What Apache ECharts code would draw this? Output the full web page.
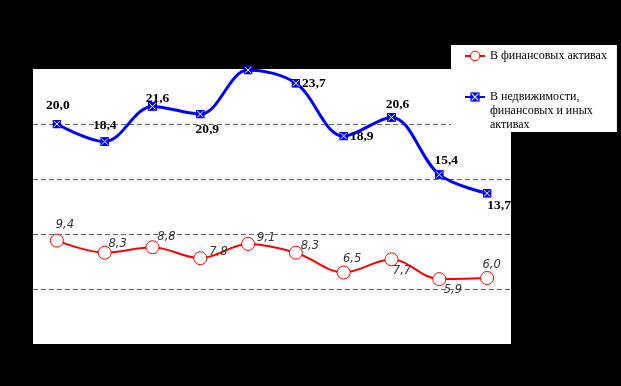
<!DOCTYPE html>
<html>
<head>
<meta charset="utf-8">
<script src="https://cdn.jsdelivr.net/npm/echarts@6/dist/echarts.min.js"></script>
<style>
html,body{margin:0;padding:0;background:#000;}
#chart{width:621px;height:386px;}
</style>
</head>
<body>
<div id="chart"></div>
<script>
// ---- data ----
const categories = ['1', '2', '3', '4', '5', '6', '7', '8', '9', '10'];
const finName = 'В финансовых активах';
const realName = 'В недвижимости, финансовых и иных активах';
const finValues = [9.4, 8.3, 8.8, 7.8, 9.1, 8.3, 6.5, 7.7, 5.9, 6.0];
const realValues = [20.0, 18.4, 21.6, 20.9, 24.9, 23.7, 18.9, 20.6, 15.4, 13.7];
const yTicks = [0, 5, 10, 15, 20, 25];

// ---- label placement (offset of label centre from point) ----
const finLabelOffsets = [[8,-16],[13,-8.5],[14,-10],[18,-6],[18,-5.5],[14,-7],[8.5,-13],[10.5,12],[13.5,11],[4.5,-13]];
const realLabelOffsets = [[1,-18],[0,-16],[5,-7.5],[7,15],[0,-18],[18,0],[18,0.5],[6,-13],[7,-14],[12,12.5]];

const fmt = v => v.toFixed(1).replace('.', ',');

const xMarkerSvg = "<svg xmlns='http://www.w3.org/2000/svg' width='20' height='20' viewBox='0 0 20 20'>" +
  "<rect x='0' y='0' width='20' height='20' fill='#0000ff'/>" +
  "<path d='M3 3L17 17M17 3L3 17' stroke='#ffffff' stroke-width='2.2'/></svg>";
const xMarker = 'image://data:image/svg+xml;charset=utf-8,' + encodeURIComponent(xMarkerSvg);

const chart = echarts.init(document.getElementById('chart'), null, {renderer: 'canvas'});

const option = {
  backgroundColor: '#000000',
  animation: false,
  grid: {
    left: 33, right: 110, top: 69, bottom: 42,
    show: true, backgroundColor: '#ffffff', borderWidth: 0
  },
  legend: {
    left: 451, top: 45,
    orient: 'vertical',
    backgroundColor: '#ffffff',
    padding: [4, 10, 0, 13],
    itemGap: -1,
    itemWidth: 20, itemHeight: 12,
    itemStyle: {borderWidth: 1},
    data: [finName, realName],
    formatter: name => name === realName ? '\n\nВ недвижимости,\nфинансовых и иных\nактивах' : name,
    textStyle: {fontFamily: 'Liberation Serif', fontSize: 12, color: '#000', lineHeight: 14}
  },
  xAxis: {
    type: 'category',
    data: categories,
    boundaryGap: true,
    axisLine: {show: false}, axisTick: {show: false}, axisLabel: {show: false},
    splitLine: {show: false}
  },
  yAxis: {
    type: 'value',
    min: yTicks[0], max: yTicks[yTicks.length - 1], interval: 5,
    axisLine: {show: false}, axisTick: {show: false}, axisLabel: {show: false},
    splitLine: {
      show: true, showMinLine: false, showMaxLine: false,
      lineStyle: {color: '#666666', width: 1, type: [5, 3]}
    }
  },
  series: [
    {
      name: finName,
      type: 'line',
      smooth: 0.35,
      clip: false,
      symbol: 'circle',
      symbolSize: 13,
      lineStyle: {color: '#ff0000', width: 2},
      itemStyle: {color: '#ffffff', borderColor: '#ff0000', borderWidth: 1},
      data: finValues.map((v, i) => ({
        value: v,
        label: {offset: finLabelOffsets[i]}
      })),
      label: {
        show: true, position: 'inside',
        formatter: p => fmt(p.value),
        fontFamily: 'DejaVu Sans', fontStyle: 'italic', fontSize: 11.5, color: '#333333'
      },
      z: 3
    },
    {
      name: realName,
      type: 'line',
      smooth: 0.35,
      clip: false,
      symbol: xMarker,
      symbolSize: 9,
      lineStyle: {color: '#0000ff', width: 3},
      itemStyle: {color: '#0000ff'},
      data: realValues.map((v, i) => ({
        value: v,
        label: {offset: realLabelOffsets[i]}
      })),
      label: {
        show: true, position: 'inside',
        formatter: p => fmt(p.value),
        fontFamily: 'Liberation Serif', fontWeight: 'bold', fontSize: 13.5, color: '#000000'
      },
      z: 4
    }
  ]
};
chart.setOption(option);
</script>
</body>
</html>
